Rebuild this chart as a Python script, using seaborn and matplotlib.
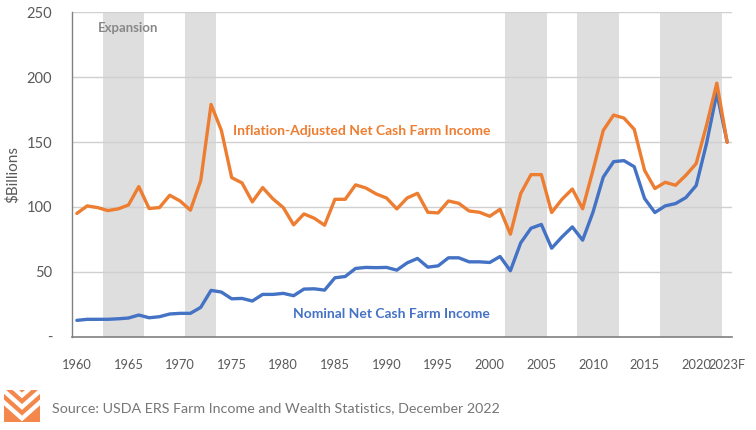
import numpy as np
import pandas as pd
import seaborn as sns
import matplotlib.pyplot as plt
from matplotlib.patches import Polygon

# Net cash farm income, $ billions
years = list(range(1960, 2024))
nominal = [
    12.6, 13.4, 13.4, 13.4, 13.8, 14.4, 16.7, 14.6, 15.4, 17.5,
    18.0, 18.0, 22.6, 35.7, 34.4, 29.2, 29.5, 27.5, 32.6, 32.6,
    33.4, 31.6, 36.7, 36.9, 35.9, 45.4, 46.4, 52.6, 53.4, 53.2,
    53.4, 51.3, 56.9, 60.3, 53.6, 54.6, 60.8, 60.8, 57.7, 57.7,
    57.2, 61.8, 50.8, 72.3, 83.6, 86.5, 68.2, 76.9, 84.6, 74.4,
    95.9, 123.0, 134.9, 135.7, 131.0, 106.5, 95.7, 100.8, 102.6, 107.2,
    116.5, 148.8, 187.7, 150.0,
]
adjusted = [
    95.0, 100.8, 99.5, 97.2, 98.5, 101.5, 115.7, 98.8, 99.5, 109.0,
    104.6, 97.5, 120.3, 179.0, 159.0, 122.6, 118.5, 103.9, 114.9, 106.2,
    99.5, 86.2, 94.6, 91.3, 85.9, 105.9, 105.9, 117.0, 114.6, 110.0,
    106.9, 98.5, 106.9, 110.5, 95.9, 95.4, 104.6, 102.8, 96.9, 95.9,
    92.8, 98.2, 79.0, 110.3, 124.9, 124.9, 95.7, 105.9, 113.8, 98.6,
    128.2, 159.0, 170.8, 168.5, 159.8, 128.2, 114.2, 119.0, 116.7, 124.4,
    133.4, 162.8, 195.4, 149.8,
]
# shaded expansion periods (first and last year)
band_start = [1963, 1971, 2002, 2009, 2017]
band_end = [1966, 1973, 2005, 2012, 2022]

label_years = [1960, 1965, 1970, 1975, 1980, 1985, 1990, 1995, 2000, 2005,
               2010, 2015, 2020, 2023]
label_text = [str(y) for y in label_years[:-1]] + ["2023F"]
y_ticks = [0, 50, 100, 150, 200, 250]
y_labels = ["-", "50", "100", "150", "200", "250"]

ORANGE = "#ED7D31"
BLUE = "#4472C4"
GREY_TXT = "#595959"

df = pd.DataFrame({"year": years, "Nominal": nominal, "Adjusted": adjusted})

sns.set_style("white")
plt.rcParams["font.family"] = ["Lato", "DejaVu Sans"]

fig = plt.figure(figsize=(7.56, 4.30), dpi=100)
ax = fig.add_axes([71.7 / 756, 1 - 336.7 / 430, (732.3 - 71.7) / 756, (336.7 - 12.3) / 430])

for s, e in zip(band_start, band_end):
    ax.axvspan(s - 0.5, e + 0.5, color="#dedede", lw=0, zorder=0)

for yv in y_ticks[1:]:
    ax.axhline(yv, color="#d0d0d0", lw=1, zorder=1)

sns.lineplot(data=df, x="year", y="Nominal", color=BLUE, lw=2.4, ax=ax, zorder=3)
sns.lineplot(data=df, x="year", y="Adjusted", color=ORANGE, lw=2.4, ax=ax, zorder=4)

ax.set_xlim(1959.5, 2023.5)
ax.set_ylim(0, 250)

# boundary tick marks, labels at year centres
ax.set_xticks([1959.5 + 5 * k for k in range(13)])
ax.set_xticklabels([])
ax.tick_params(axis="x", which="major", direction="out", length=4, width=1, color="#808080")
ax.set_xticks(label_years, minor=True)
ax.set_xticklabels(label_text, minor=True, fontsize=9.3, color=GREY_TXT)
ax.tick_params(axis="x", which="minor", length=0, pad=16)

ax.set_yticks(y_ticks)
ax.set_yticklabels(y_labels, fontsize=10.5, color=GREY_TXT)
ax.tick_params(axis="y", length=0, pad=14)

ax.set_xlabel("")
ax.set_ylabel("$Billions", fontsize=11, color=GREY_TXT, labelpad=5)

for side in ["top", "right"]:
    ax.spines[side].set_visible(False)
ax.spines["left"].set_color("#808080")
ax.spines["left"].set_linewidth(1)
ax.spines["bottom"].set_color("#808080")
ax.spines["bottom"].set_linewidth(1.2)

ax.text(1965.0, 238, "Expansion", fontsize=9.5, fontweight="bold", color="#888888",
        ha="center", va="center", zorder=5)
ax.text(1987.6, 158.2, "Inflation-Adjusted Net Cash Farm Income", fontsize=10,
        fontweight="bold", color=ORANGE, ha="center", va="center", zorder=5)
ax.text(1990.5, 17.5, "Nominal Net Cash Farm Income", fontsize=10,
        fontweight="bold", color=BLUE, ha="center", va="center", zorder=5)

# source line and logo
fig.text(52 / 756, 1 - 408 / 430, "Source: USDA ERS Farm Income and Wealth Statistics, December 2022",
         fontsize=10.3, color="#767676", ha="left", va="center")

lax = fig.add_axes([4 / 756, 1 - 422 / 430, 36 / 756, 32 / 430])
lax.set_xlim(0, 1)
lax.set_ylim(0, 1)
lax.axis("off")
bg = Polygon([[0, 0], [1, 0], [1, 1], [0, 1]], closed=True, color="#F4874B", lw=0)
lax.add_patch(bg)
for off in [0.02, 0.38, 0.74]:
    for sgn in [-1, 1]:
        x0 = 0.5
        pts = [[x0, 0.0 + off], [x0 + sgn * 0.9, 0.9 + off], [x0 + sgn * 0.9, 1.08 + off], [x0, 0.18 + off]]
        p = Polygon(pts, closed=True, color="white", lw=0)
        p.set_clip_path(bg)
        lax.add_patch(p)

fig.savefig("out.png", dpi=100)
